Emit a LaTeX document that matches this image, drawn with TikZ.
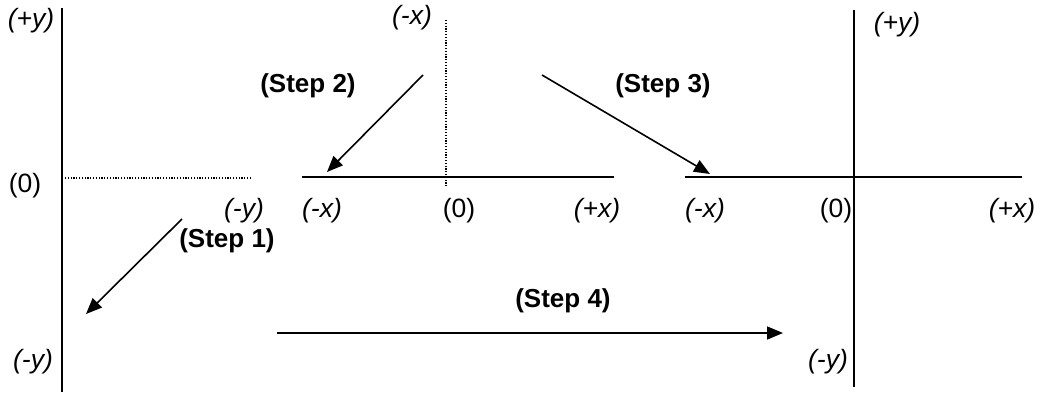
\documentclass[tikz,border=0pt]{standalone}
\usepackage{fontspec}
\setmainfont{Liberation Sans}
\usetikzlibrary{arrows.meta}
\begin{document}
\begin{tikzpicture}[x=1pt,y=-1pt,
  axis/.style={line width=1.8pt},
  dotaxis/.style={line width=1.2pt, dash pattern=on 1.2pt off 1.6pt},
  steparrow/.style={line width=1.6pt, -{Triangle[length=16pt,width=13pt]}},
  lbl/.style={font=\fontsize{26.5}{29}\selectfont\itshape, inner sep=0pt},
  zlbl/.style={font=\fontsize{26.5}{29}\selectfont, inner sep=0pt},
  steplbl/.style={font=\fontsize{26}{29}\selectfont\bfseries, inner sep=0pt}]
\useasboundingbox (0,0) rectangle (1045,394);
% left axis
\coordinate (l1) at (62,8); \coordinate (l2) at (62,392);
\draw[axis] (l1) -- (l2);
\coordinate (d1) at (65,178); \coordinate (d2) at (250,178);
\draw[dotaxis] (d1) -- (d2);
\node[lbl] (lpy) at (31,21) {(+y)};
\node[zlbl] (lz) at (25,186) {(0)};
\node[lbl] (lmy) at (33,362) {(-y)};
\node[lbl] (lmy2) at (244,211) {(-y)};
\coordinate (s1a) at (182,219); \coordinate (s1b) at (86,314);
\draw[steparrow] (s1a) -- (s1b);
\node[steplbl] (st1) at (227,241) {(Step 1)};
% middle axis
\coordinate (m1) at (302,177); \coordinate (m2) at (614,177);
\draw[axis] (m1) -- (m2);
\coordinate (mv1) at (446,20); \coordinate (mv2) at (446,186);
\draw[dotaxis] (mv1) -- (mv2);
\node[lbl] (mmxt) at (412,18) {(-x)};
\node[lbl] (mmx) at (322,211) {(-x)};
\node[zlbl] (mz) at (459,211) {(0)};
\node[lbl] (mpx) at (597,211) {(+x)};
\coordinate (s2a) at (423,75); \coordinate (s2b) at (327,172);
\draw[steparrow] (s2a) -- (s2b);
\node[steplbl] (st2) at (308,86) {(Step 2)};
\coordinate (s3a) at (542,75); \coordinate (s3b) at (710,174);
\draw[steparrow] (s3a) -- (s3b);
\node[steplbl] (st3) at (663,86) {(Step 3)};
% right axes
\coordinate (r1) at (685,177); \coordinate (r2) at (1022,177);
\draw[axis] (r1) -- (r2);
\coordinate (rv1) at (854,10); \coordinate (rv2) at (854,387);
\draw[axis] (rv1) -- (rv2);
\node[lbl] (rpy) at (897,25) {(+y)};
\node[lbl] (rmx) at (705,211) {(-x)};
\node[zlbl] (rz) at (836,211) {(0)};
\node[lbl] (rpx) at (1012,211) {(+x)};
\node[lbl] (rmy) at (828,362) {(-y)};
% step 4
\coordinate (s4a) at (277,333); \coordinate (s4b) at (783,333);
\draw[steparrow] (s4a) -- (s4b);
\node[steplbl] (st4) at (563,301) {(Step 4)};
\end{tikzpicture}
\end{document}
